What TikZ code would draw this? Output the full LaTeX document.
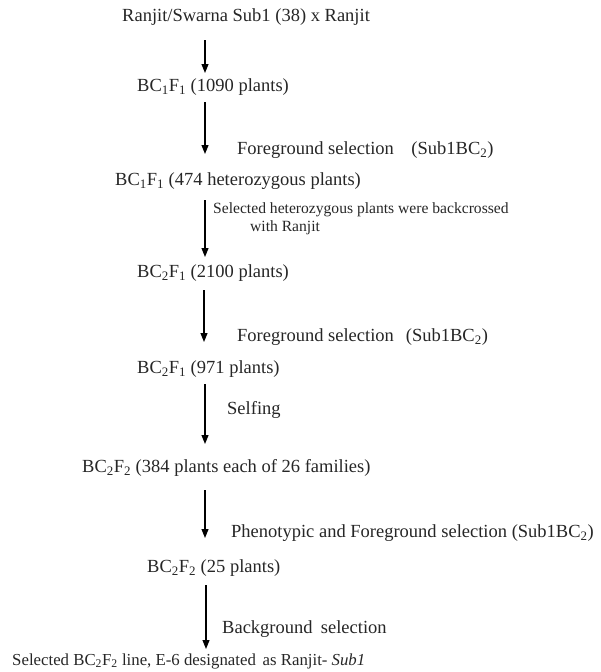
\documentclass[tikz,border=0pt]{standalone}
\usepackage{fontspec}
\setmainfont{Liberation Serif}
\usetikzlibrary{arrows.meta}
\begin{document}
\begin{tikzpicture}[x=1pt,y=-1pt,
  lbl/.style={anchor=west,inner sep=0pt,font=\fontsize{18.5}{20}\selectfont,text=black!85},
  small/.style={anchor=west,inner sep=0pt,font=\fontsize{15.6}{17}\selectfont,text=black!85},
  last/.style={anchor=west,inner sep=0pt,font=\fontsize{16.8}{18}\selectfont,text=black!85},
  arr/.style={draw=black,line width=1.1pt,-{Triangle[length=9pt,width=7pt]}}]
\useasboundingbox (0,0) rectangle (600,672);
\node[lbl] (l1) at (122,17) {Ranjit/Swarna Sub1 (38) x Ranjit};
\node[lbl] (l2) at (137,87) {BC\textsubscript{1}F\textsubscript{1} (1090 plants)};
\node[lbl] (f1) at (237,150) {Foreground selection\hspace{0.7em} (Sub1BC\textsubscript{2})};
\node[lbl] (l3) at (115,181) {BC\textsubscript{1}F\textsubscript{1} (474 heterozygous plants)};
\node[small] (s1) at (213,210) {Selected heterozygous plants were backcrossed};
\node[small] (s2) at (250,228) {with Ranjit};
\node[lbl] (l4) at (137,273) {BC\textsubscript{2}F\textsubscript{1} (2100 plants)};
\node[lbl] (f2) at (237,337) {Foreground selection\hspace{0.4em} (Sub1BC\textsubscript{2})};
\node[lbl] (l5) at (137,369) {BC\textsubscript{2}F\textsubscript{1} (971 plants)};
\node[lbl] (f3) at (227,410) {Selfing};
\node[lbl] (l6) at (82,468) {BC\textsubscript{2}F\textsubscript{2} (384 plants each of 26 families)};
\node[lbl] (f4) at (231,533) {Phenotypic and Foreground selection (Sub1BC\textsubscript{2})};
\node[lbl] (l7) at (147,568) {BC\textsubscript{2}F\textsubscript{2} (25 plants)};
\node[lbl] (f5) at (222,629) {Background\hspace{0.2em} selection};
\node[last] (l8) at (12,661) {Selected BC\textsubscript{2}F\textsubscript{2} line, E-6 designated\hspace{0.15em} as Ranjit- \textit{Sub1}};
\coordinate (a1s) at (205,40);  \coordinate (a1e) at (205,73);
\coordinate (a2s) at (205,102); \coordinate (a2e) at (205,154);
\coordinate (a3s) at (205,200); \coordinate (a3e) at (205,257);
\coordinate (a4s) at (204,290); \coordinate (a4e) at (204,342);
\coordinate (a5s) at (205,384); \coordinate (a5e) at (205,444);
\coordinate (a6s) at (205,490); \coordinate (a6e) at (205,538);
\coordinate (a7s) at (206,585); \coordinate (a7e) at (206,649);
\draw[arr] (a1s) -- (a1e);
\draw[arr] (a2s) -- (a2e);
\draw[arr] (a3s) -- (a3e);
\draw[arr] (a4s) -- (a4e);
\draw[arr] (a5s) -- (a5e);
\draw[arr] (a6s) -- (a6e);
\draw[arr] (a7s) -- (a7e);
\end{tikzpicture}
\end{document}
